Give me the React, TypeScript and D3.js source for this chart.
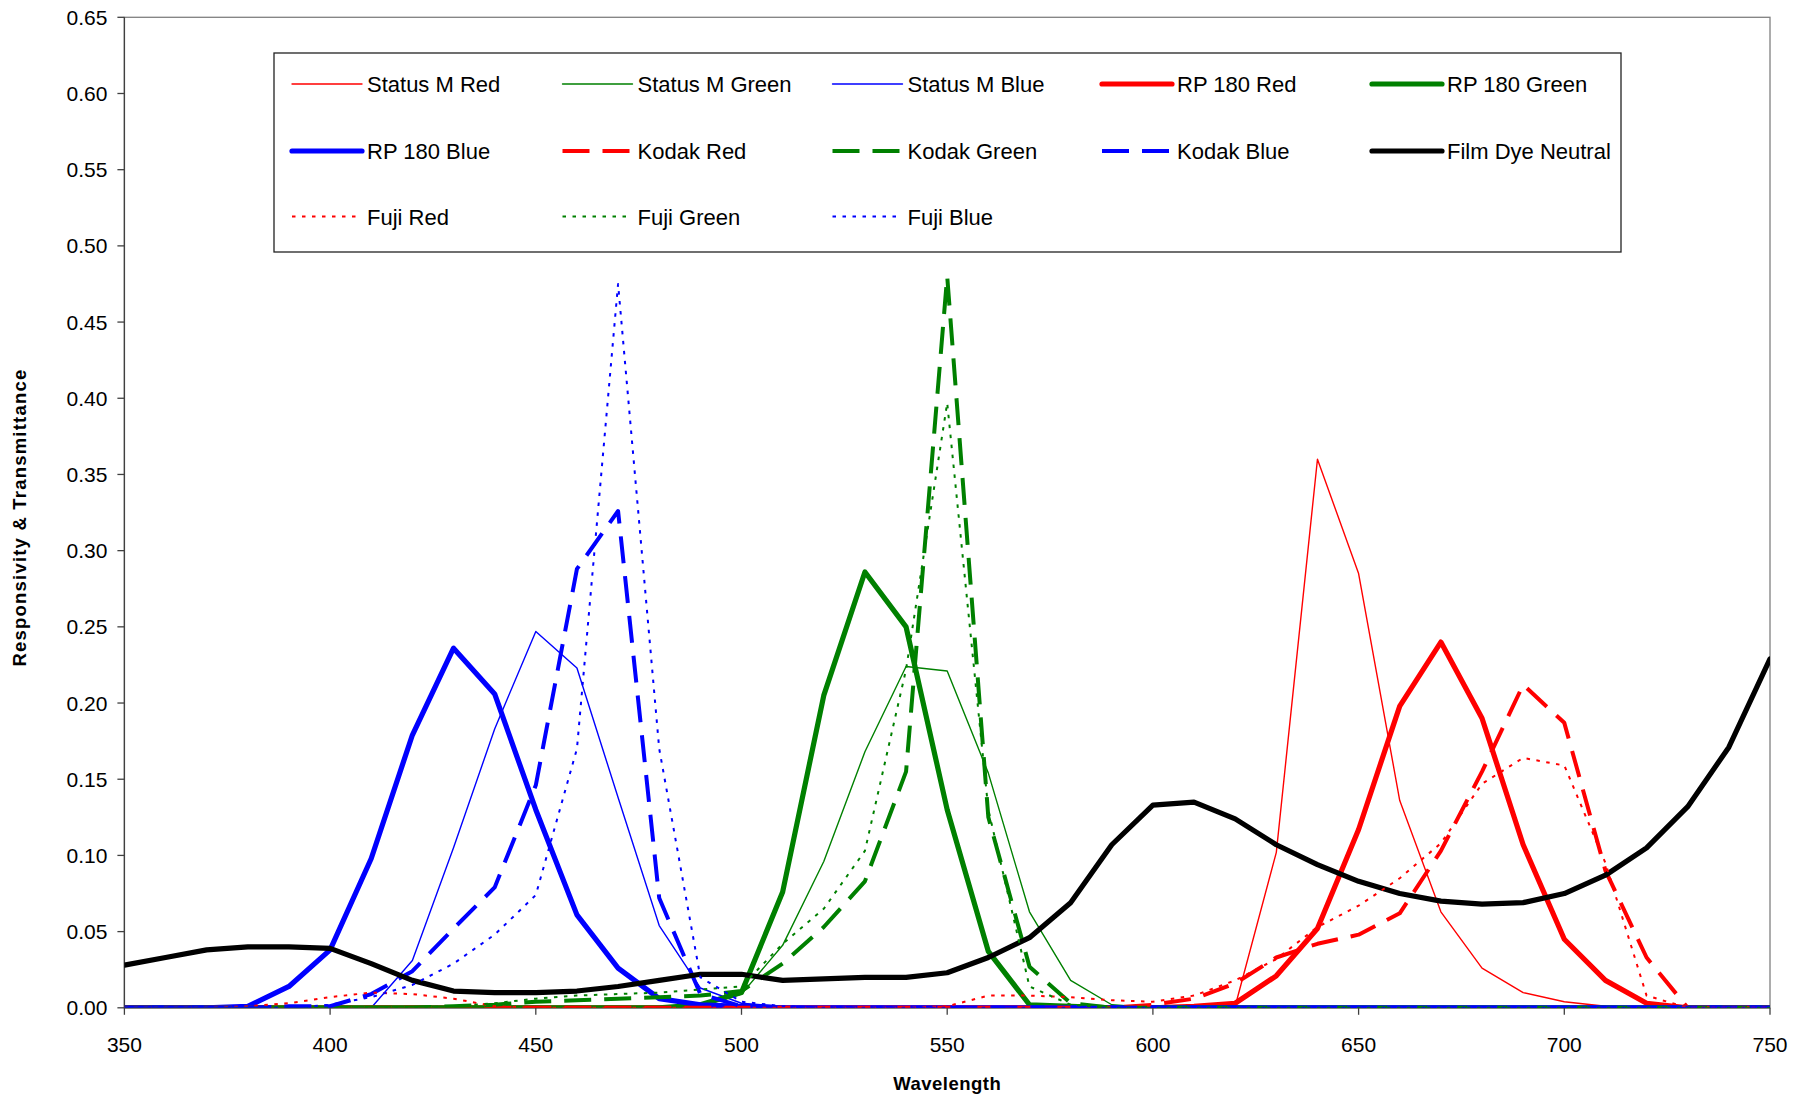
import React from "react";
import * as d3 from "d3";

const wavelengths = [350, 360, 370, 380, 390, 400, 410, 420, 430, 440, 450, 460, 470, 480, 490, 500, 510, 520, 530, 540, 550, 560, 570, 580, 590, 600, 610, 620, 630, 640, 650, 660, 670, 680, 690, 700, 710, 720, 730, 740, 750];

const statusMRed = [0, 0, 0, 0, 0, 0, 0, 0, 0, 0, 0, 0, 0, 0, 0, 0, 0, 0, 0, 0, 0, 0, 0, 0, 0, 0, 0, 0.001, 0.102, 0.36, 0.285, 0.136, 0.063, 0.026, 0.01, 0.004, 0.001, 0, 0, 0, 0];
const statusMGreen = [0, 0, 0, 0, 0, 0, 0, 0, 0, 0, 0, 0, 0, 0, 0.001, 0.009, 0.041, 0.096, 0.168, 0.224, 0.221, 0.154, 0.063, 0.018, 0.002, 0, 0, 0, 0, 0, 0, 0, 0, 0, 0, 0, 0, 0, 0, 0, 0];
const statusMBlue = [0, 0, 0, 0, 0, 0, 0, 0.031, 0.105, 0.183, 0.247, 0.223, 0.138, 0.054, 0.013, 0.003, 0.001, 0, 0, 0, 0, 0, 0, 0, 0, 0, 0, 0, 0, 0, 0, 0, 0, 0, 0, 0, 0, 0, 0, 0, 0];
const rp180Red = [0, 0, 0, 0, 0, 0, 0, 0, 0, 0, 0, 0, 0, 0, 0, 0, 0, 0, 0, 0, 0, 0, 0, 0, 0, 0, 0.001, 0.003, 0.021, 0.052, 0.117, 0.198, 0.24, 0.19, 0.107, 0.045, 0.018, 0.003, 0, 0, 0];
const rp180Green = [0, 0, 0, 0, 0, 0, 0, 0, 0, 0, 0, 0, 0, 0, 0.002, 0.01, 0.076, 0.205, 0.286, 0.25, 0.13, 0.037, 0.002, 0.001, 0, 0, 0, 0, 0, 0, 0, 0, 0, 0, 0, 0, 0, 0, 0, 0, 0];
const rp180Blue = [0, 0, 0, 0.001, 0.014, 0.038, 0.098, 0.179, 0.236, 0.206, 0.13, 0.061, 0.026, 0.006, 0.002, 0.001, 0, 0, 0, 0, 0, 0, 0, 0, 0, 0, 0, 0, 0, 0, 0, 0, 0, 0, 0, 0, 0, 0, 0, 0, 0];
const kodakRed = [0, 0, 0, 0, 0, 0, 0, 0, 0, 0, 0, 0, 0, 0, 0, 0, 0, 0, 0, 0, 0, 0, 0, 0, 0, 0.002, 0.006, 0.016, 0.033, 0.042, 0.048, 0.062, 0.103, 0.155, 0.212, 0.187, 0.09, 0.033, 0, 0, 0];
const kodakGreen = [0, 0, 0, 0, 0, 0, 0, 0, 0.001, 0.002, 0.004, 0.005, 0.006, 0.007, 0.008, 0.011, 0.029, 0.053, 0.083, 0.155, 0.48, 0.125, 0.027, 0.003, 0, 0, 0, 0, 0, 0, 0, 0, 0, 0, 0, 0, 0, 0, 0, 0, 0];
const kodakBlue = [0, 0, 0, 0, 0.001, 0.001, 0.009, 0.024, 0.052, 0.079, 0.146, 0.288, 0.326, 0.072, 0.009, 0.001, 0, 0, 0, 0, 0, 0, 0, 0, 0, 0, 0, 0, 0, 0, 0, 0, 0, 0, 0, 0, 0, 0, 0, 0, 0];
const filmDyeNeutral = [0.028, 0.033, 0.038, 0.04, 0.04, 0.039, 0.029, 0.018, 0.011, 0.01, 0.01, 0.011, 0.014, 0.018, 0.022, 0.022, 0.018, 0.019, 0.02, 0.02, 0.023, 0.033, 0.046, 0.069, 0.107, 0.133, 0.135, 0.124, 0.107, 0.094, 0.083, 0.075, 0.07, 0.068, 0.069, 0.075, 0.087, 0.105, 0.132, 0.171, 0.229];
const fujiRed = [0, 0, 0, 0.001, 0.003, 0.007, 0.01, 0.009, 0.006, 0.001, 0, 0, 0, 0, 0, 0, 0, 0, 0, 0, 0.001, 0.008, 0.008, 0.007, 0.005, 0.004, 0.008, 0.018, 0.032, 0.053, 0.067, 0.085, 0.108, 0.147, 0.164, 0.159, 0.095, 0.008, 0, 0, 0];
const fujiGreen = [0, 0, 0, 0, 0, 0, 0, 0, 0.001, 0.003, 0.006, 0.008, 0.009, 0.01, 0.012, 0.014, 0.042, 0.065, 0.103, 0.222, 0.397, 0.13, 0.014, 0.002, 0, 0, 0, 0, 0, 0, 0, 0, 0, 0, 0, 0, 0, 0, 0, 0, 0];
const fujiBlue = [0, 0, 0, 0, 0, 0.002, 0.007, 0.015, 0.029, 0.048, 0.074, 0.17, 0.475, 0.17, 0.02, 0.004, 0.001, 0, 0, 0, 0, 0, 0, 0, 0, 0, 0, 0, 0, 0, 0, 0, 0, 0, 0, 0, 0, 0, 0, 0, 0];

const seriesNames = ["Status M Red", "Status M Green", "Status M Blue", "RP 180 Red", "RP 180 Green", "RP 180 Blue", "Kodak Red", "Kodak Green", "Kodak Blue", "Film Dye Neutral", "Fuji Red", "Fuji Green", "Fuji Blue"];
const seriesValues = [statusMRed, statusMGreen, statusMBlue, rp180Red, rp180Green, rp180Blue, kodakRed, kodakGreen, kodakBlue, filmDyeNeutral, fujiRed, fujiGreen, fujiBlue];
const seriesColors = ["#FF0000", "#008000", "#0000FF", "#FF0000", "#008000", "#0000FF", "#FF0000", "#008000", "#0000FF", "#000000", "#FF0000", "#008000", "#0000FF"];
const seriesKinds = ["thin", "thin", "thin", "thick", "thick", "thick", "dash", "dash", "dash", "thick", "dot", "dot", "dot"];

const xTicks = [350, 400, 450, 500, 550, 600, 650, 700, 750];
const yTicks = [0, 0.05, 0.1, 0.15, 0.2, 0.25, 0.3, 0.35, 0.4, 0.45, 0.5, 0.55, 0.6, 0.65];

const W = 1806;
const H = 1096;
const L = 124.4;
const R = 1770;
const T = 17.3;
const B = 1007.8;

const styleFor = (kind: string) => {
  if (kind === "thin") return { strokeWidth: 1.4, dash: undefined as string | undefined };
  if (kind === "thick") return { strokeWidth: 5.2, dash: undefined };
  if (kind === "dash") return { strokeWidth: 4, dash: "27,13" };
  return { strokeWidth: 2, dash: "3.5,6.5" };
};

export default function App() {
  const x = d3.scaleLinear().domain([350, 750]).range([L, R]);
  const y = d3.scaleLinear().domain([0, 0.65]).range([B, T]);
  const line = d3
    .line<number>()
    .x((_, i) => x(wavelengths[i]))
    .y((d) => y(d));

  const font = "'Liberation Sans', Arial, sans-serif";
  const legendCols = [292, 562.5, 832.5, 1102, 1372];
  const legendRows = [84, 151, 216.5];

  return (
    <svg
      width={W}
      height={H}
      style={{ position: "absolute", left: 0, top: 0, display: "block", background: "#fff" }}
      fontFamily={font}
    >
      <defs>
        <clipPath id="plotClip">
          <rect x={L} y={T - 4} width={R - L} height={B - T + 4} />
        </clipPath>
      </defs>
      <rect x={0} y={0} width={W} height={H} fill="#fff" />
      <rect x={L} y={T} width={R - L} height={B - T} fill="none" stroke="#808080" strokeWidth={1.3} />
      <line x1={L} y1={T} x2={L} y2={B} stroke="#404040" strokeWidth={1.3} />
      <line x1={L} y1={B} x2={R} y2={B} stroke="#404040" strokeWidth={1.3} />
      {yTicks.map((t) => (
        <g key={"y" + t}>
          <line x1={L - 7} x2={L} y1={y(t)} y2={y(t)} stroke="#404040" strokeWidth={1.3} />
          <text x={L - 17} y={y(t)} dy="0.36em" textAnchor="end" fontSize={21} fill="#000">
            {t.toFixed(2)}
          </text>
        </g>
      ))}
      {xTicks.map((t) => (
        <g key={"x" + t}>
          <line x1={x(t)} x2={x(t)} y1={B} y2={B + 7} stroke="#404040" strokeWidth={1.3} />
          <text x={x(t)} y={1052} textAnchor="middle" fontSize={21} fill="#000">
            {t}
          </text>
        </g>
      ))}
      <text x={(L + R) / 2} y={1090} textAnchor="middle" fontSize={18.5} fontWeight="bold" letterSpacing={0.5}>
        Wavelength
      </text>
      <text
        transform={`translate(26,${(T + B) / 2 + 5}) rotate(-90)`}
        textAnchor="middle"
        fontSize={18.5}
        fontWeight="bold"
        letterSpacing={1.2}
      >
        Responsivity &amp; Transmittance
      </text>

      <g clipPath="url(#plotClip)">
        {seriesValues.map((vals, i) => {
          const s = styleFor(seriesKinds[i]);
          return (
            <path
              key={seriesNames[i]}
              d={line(vals) || ""}
              fill="none"
              stroke={seriesColors[i]}
              strokeWidth={s.strokeWidth}
              strokeDasharray={s.dash}
              strokeLinejoin="round"
              strokeLinecap={s.dash ? "butt" : "round"}
            />
          );
        })}
      </g>

      <rect x={274} y={53} width={1347} height={199} fill="#fff" stroke="#222" strokeWidth={1.3} />
      {seriesNames.map((name, i) => {
        const col = i % 5;
        const row = Math.floor(i / 5);
        const lx = legendCols[col];
        const ly = legendRows[row];
        const s = styleFor(seriesKinds[i]);
        return (
          <g key={"leg" + name}>
            <line
              x1={lx}
              x2={lx + 70}
              y1={ly}
              y2={ly}
              stroke={seriesColors[i]}
              strokeWidth={s.strokeWidth}
              strokeDasharray={s.dash}
              strokeLinecap={s.dash ? "butt" : "round"}
            />
            <text x={lx + 75} y={ly + 8} fontSize={22} fill="#000">
              {name}
            </text>
          </g>
        );
      })}
    </svg>
  );
}
